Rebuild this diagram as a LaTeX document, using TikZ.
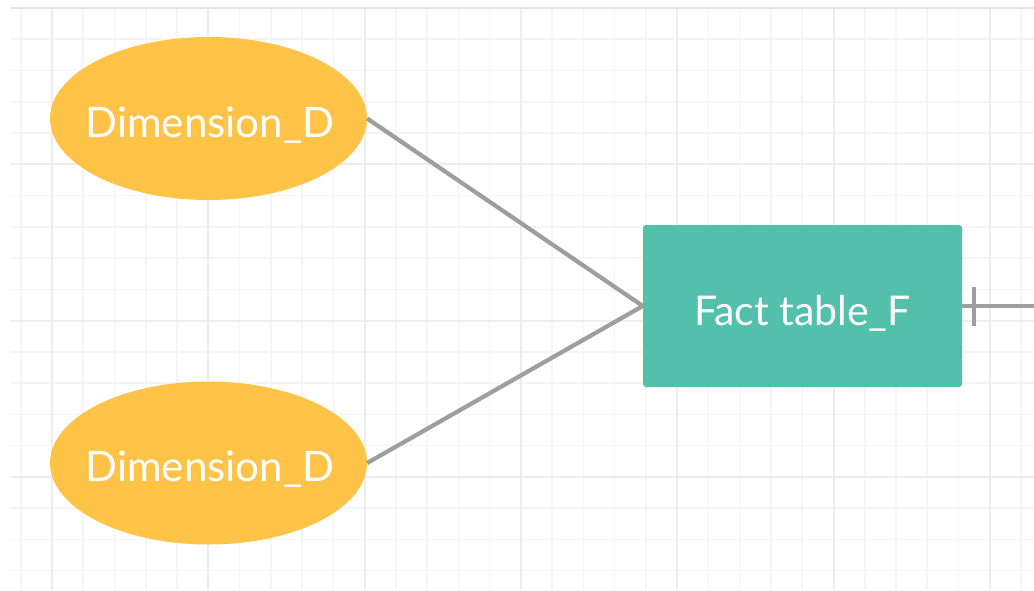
\documentclass[tikz,border=0pt]{standalone}
\usepackage{fontspec}
\setmainfont{Lato}
\usetikzlibrary{shapes.geometric}
\definecolor{dimfill}{HTML}{FFC447}
\definecolor{factfill}{HTML}{52C0AA}
\definecolor{linkgray}{HTML}{9E9E9E}
\definecolor{gridmajor}{HTML}{EDEDED}
\definecolor{gridminor}{HTML}{F5F5F5}
\definecolor{gridtop}{HTML}{E3E3E3}
\begin{document}
\begin{tikzpicture}[x=1pt,y=-1pt,
  dimnode/.style={ellipse, fill=dimfill, inner sep=0pt, minimum width=317pt, minimum height=163pt, text=white, font=\fontsize{42}{48}\selectfont},
  factnode/.style={rectangle, rounded corners=3pt, fill=factfill, inner sep=0pt, minimum width=319pt, minimum height=162pt, text=white, font=\fontsize{41}{48}\selectfont},
  lbl/.style={text=white, inner sep=0pt},
  link/.style={draw=linkgray, line width=4.2pt}]
\useasboundingbox (0,0) rectangle (1034,590);
\fill[white] (0,0) rectangle (1034,590);
% minor grid
\foreach \i in {0,...,32} {
  \draw[gridminor, line width=1.6pt] ({20.7+31.26*\i},8) -- ({20.7+31.26*\i},590);
}
\foreach \j in {0,...,18} {
  \draw[gridminor, line width=1.6pt] (10,{8+31.26*\j}) -- (1034,{8+31.26*\j});
}
% major grid
\foreach \i in {0,...,6} {
  \draw[gridmajor, line width=2pt] ({52+156.3*\i},8) -- ({52+156.3*\i},590);
}
\foreach \j in {1,...,3} {
  \draw[gridmajor, line width=2pt] (10,{8+156.3*\j}) -- (1034,{8+156.3*\j});
}
\draw[gridtop, line width=2pt] (10,8) -- (1034,8);
\node[dimnode] (d1) at (208.5,118.5) {};
\node[dimnode] (d2) at (208.5,463) {};
\node[factnode] (f) at (802.5,306) {};
\node[lbl, font=\fontsize{42}{48}\selectfont, anchor=base] (t1) at (210,137) {Dimension\_D};
\node[lbl, font=\fontsize{42}{48}\selectfont, anchor=base] (t2) at (210,481.5) {Dimension\_D};
\node[lbl, font=\fontsize{41}{48}\selectfont, anchor=base] (t3) at (802.5,325) {Fact table\_F};
\coordinate (rend) at (1034,306);
\coordinate (tick) at (974,306);
\draw[link] (d1.east) -- (f.west);
\draw[link] (d2.east) -- (f.west);
\draw[link] (f.east) -- (rend);
\draw[link] ([yshift=-19.5pt]tick) -- ([yshift=19.5pt]tick);
\end{tikzpicture}
\end{document}
